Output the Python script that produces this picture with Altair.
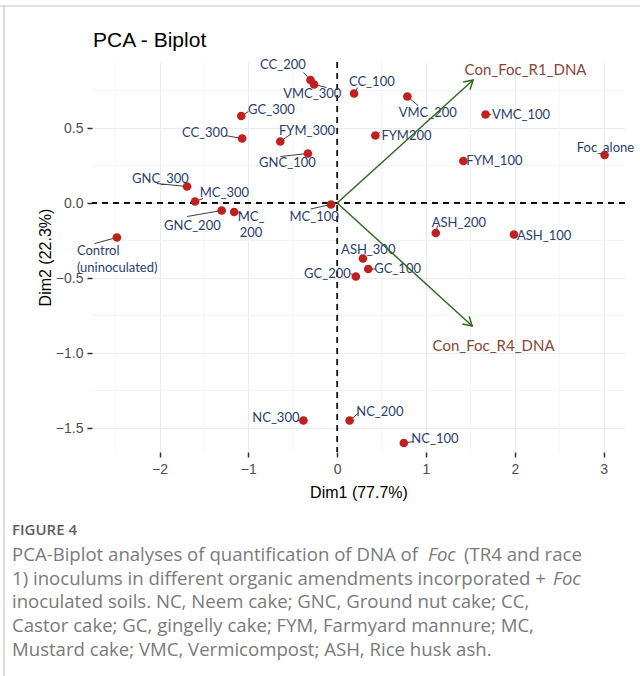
import math
import altair as alt
import pandas as pd

# ---- PCA individuals (Dim1, Dim2) ----
names = ["CC_200", "VMC_300", "CC_100", "VMC_200", "VMC_100", "FYM200", "FYM_100",
         "Foc_alone", "GC_300", "CC_300", "FYM_300", "GNC_100", "GNC_300", "MC_300",
         "GNC_200", "MC_\n200", "MC_100", "Control\n(uninoculated)", "ASH_200",
         "ASH_100", "ASH_300", "GC_100", "GC_200", "NC_300", "NC_200", "NC_100"]
dim1 = [-0.30, -0.26, 0.19, 0.79, 1.67, 0.43, 1.42, 3.01, -1.08, -1.07, -0.64, -0.33,
        -1.69, -1.60, -1.30, -1.16, -0.07, -2.48, 1.11, 1.99, 0.29, 0.35, 0.21,
        -0.38, 0.14, 0.75]
dim2 = [0.82, 0.79, 0.73, 0.71, 0.59, 0.45, 0.28, 0.32, 0.58, 0.43, 0.41, 0.33,
        0.11, 0.01, -0.05, -0.06, -0.01, -0.23, -0.20, -0.21, -0.37, -0.44, -0.49,
        -1.45, -1.45, -1.60]

# repelled label anchors (first text line) and leader-segment ends (data units)
lab_x = [-0.61, -0.28, 0.39, 1.02, 2.07, 0.78, 1.77, 3.02, -0.74, -1.49, -0.34, -0.56,
         -1.99, -1.27, -1.63, -0.97, -0.26, -2.93, 1.37, 2.33, 0.35, 0.68, -0.11,
         -0.69, 0.48, 1.10]
lab_y = [0.92, 0.73, 0.81, 0.60, 0.59, 0.45, 0.28, 0.37, 0.62, 0.47, 0.48, 0.27,
         0.16, 0.07, -0.15, -0.093, -0.09, -0.32, -0.13, -0.22, -0.31, -0.44, -0.47,
         -1.43, -1.39, -1.57]
lab_align = ["center"] * 17 + ["left"] + ["center"] * 8
seg_x = [-0.38, -0.12, 0.23, 0.91, 1.73, 0.48, 1.42, 3.01, -1.00, -1.26, -0.52, -0.64,
         -2.03, -1.51, -1.69, -1.07, -0.30, -2.73, 1.13, 1.99, 0.29, 0.43, 0.15,
         -0.44, 0.24, 0.86]
seg_y = [0.87, 0.77, 0.77, 0.65, 0.59, 0.47, 0.28, 0.32, 0.61, 0.45, 0.46, 0.31,
         0.13, 0.03, -0.09, -0.07, -0.04, -0.27, -0.15, -0.21, -0.37, -0.44, -0.47,
         -1.45, -1.40, -1.59]

# ---- variable loadings ----
var_names = ["Con_Foc_R1_DNA", "Con_Foc_R4_DNA"]
var_x = [1.53, 1.52]
var_y = [0.82, -0.82]
var_lab_x = [2.12, 1.76]
var_lab_y = [0.89, -0.95]

# ---- axes ----
x_ticks = [-2, -1, 0, 1, 2, 3]
y_ticks = [-1.5, -1.0, -0.5, 0.0, 0.5]
x_minor = [-2.5, -1.5, -0.5, 0.5, 1.5, 2.5]
y_minor = [0.75, 0.25, -0.25, -0.75, -1.25]
x_dom = [-2.76, 3.24]
y_dom = [-1.66, 0.94]

plot_title = "PCA - Biplot"
caption_head = "FIGURE 4"
caption_lines = [
    "PCA-Biplot analyses of quantification of DNA of",
    "1) inoculums in different organic amendments incorporated +",
    "inoculated soils. NC, Neem cake; GNC, Ground nut cake; CC,",
    "Castor cake; GC, gingelly cake; FYM, Farmyard mannure; MC,",
    "Mustard cake; VMC, Vermicompost; ASH, Rice husk ash.",
]
caption_italic = ["Foc", "Foc"]
caption_tail = "(TR4 and race"

W, H = 533, 390
PAD_L, PAD_T = 92, 62

X = alt.Scale(domain=x_dom, nice=False, zero=False)
Y = alt.Scale(domain=y_dom, nice=False, zero=False)
LBL = "Lato"
SANS = "Liberation Sans"
CAP = "Open Sans"
CAP_SIZE = 18.6
CAP_COLOR = "#7A7A7A"
CAP_Y0, CAP_DY = 555, 23.7

ind = pd.DataFrame({"name": names, "x": dim1, "y": dim2, "lx": lab_x, "ly": lab_y,
                    "sx": seg_x, "sy": seg_y, "align": lab_align})

kx = W / (x_dom[1] - x_dom[0])
ky = H / (y_dom[1] - y_dom[0])
var = pd.DataFrame({"name": var_names, "x": var_x, "y": var_y, "lx": var_lab_x,
                    "ly": var_lab_y,
                    "ang": [math.degrees(math.atan2(a * kx, b * ky)) for a, b in zip(var_x, var_y)]})
var["x0"] = 0.0
var["y0"] = 0.0

xaxis = alt.Axis(values=x_ticks, title="Dim1 (77.7%)", grid=True, gridColor="#EBEBEB",
                 domain=False, tickColor="#333333", tickWidth=1.5, tickSize=5,
                 labelFont=SANS, labelFontSize=14, labelColor="#4D4D4D", labelPadding=5,
                 titleFont=SANS, titleFontSize=16, titleFontWeight="normal",
                 titleColor="#000000", titlePadding=8, format="d")
yaxis = alt.Axis(values=y_ticks, title="Dim2 (22.3%)", grid=True, gridColor="#EBEBEB",
                 domain=False, tickColor="#333333", tickWidth=1.5, tickSize=5,
                 labelFont=SANS, labelFontSize=14, labelColor="#4D4D4D", labelPadding=4,
                 titleFont=SANS, titleFontSize=16, titleFontWeight="normal",
                 titleColor="#000000", titlePadding=2, format=".1f")

base = alt.Chart(ind)

axes_layer = base.mark_point(opacity=0).encode(
    x=alt.X("x:Q", scale=X, axis=xaxis),
    y=alt.Y("y:Q", scale=Y, axis=yaxis),
)

minor_x = alt.Chart(pd.DataFrame({"v": x_minor})).mark_rule(
    color="#F4F4F4", strokeWidth=1).encode(x=alt.X("v:Q", scale=X))
minor_y = alt.Chart(pd.DataFrame({"v": y_minor})).mark_rule(
    color="#F4F4F4", strokeWidth=1).encode(y=alt.Y("v:Q", scale=Y))

zero_h = alt.Chart(pd.DataFrame({"v": [0.0]})).mark_rule(
    color="#111111", strokeWidth=1.8, strokeDash=[6, 5]).encode(y=alt.Y("v:Q", scale=Y))
zero_v = alt.Chart(pd.DataFrame({"v": [0.0]})).mark_rule(
    color="#111111", strokeWidth=1.8, strokeDash=[6, 5]).encode(x=alt.X("v:Q", scale=X))

segs = base.mark_rule(color="#2a2a2a", strokeWidth=0.9).encode(
    x=alt.X("x:Q", scale=X), y=alt.Y("y:Q", scale=Y), x2="sx:Q", y2="sy:Q")

pts = base.mark_circle(size=75, color="#C0211F", opacity=1).encode(
    x=alt.X("x:Q", scale=X), y=alt.Y("y:Q", scale=Y))

labels_c = alt.Chart(ind[ind["align"] == "center"]).mark_text(
    font=LBL, fontSize=13, color="#2B3D6B", align="center", baseline="middle",
    lineBreak="\n", lineHeight=16.5).encode(
    x=alt.X("lx:Q", scale=X), y=alt.Y("ly:Q", scale=Y), text="name:N")
labels_l = alt.Chart(ind[ind["align"] == "left"]).mark_text(
    font=LBL, fontSize=13, color="#2B3D6B", align="left", baseline="middle",
    lineBreak="\n", lineHeight=16.5).encode(
    x=alt.X("lx:Q", scale=X), y=alt.Y("ly:Q", scale=Y), text="name:N")

vbase = alt.Chart(var)
shafts = vbase.mark_rule(color="#2E6B22", strokeWidth=1.5).encode(
    x=alt.X("x0:Q", scale=X), y=alt.Y("y0:Q", scale=Y), x2="x:Q", y2="y:Q")
heads = vbase.mark_point(shape="M -0.5 0.85 L 0 0 L 0.5 0.85", size=420, filled=False,
                         color="#2E6B22", strokeWidth=1.5, opacity=1).encode(
    x=alt.X("x:Q", scale=X), y=alt.Y("y:Q", scale=Y),
    angle=alt.Angle("ang:Q", scale=None))
vlabels = vbase.mark_text(font=LBL, fontSize=15, color="#8A4636", align="center",
                          baseline="middle").encode(
    x=alt.X("lx:Q", scale=X), y=alt.Y("ly:Q", scale=Y), text="name:N")

# plot title, placed above the panel's left edge
title = alt.Chart(pd.DataFrame({"t": [plot_title]})).mark_text(
    font=SANS, fontSize=21, color="#000000", align="left", baseline="middle").encode(
    x=alt.value(93 - PAD_L), y=alt.value(41 - PAD_T), text="t:N")

# figure frame lines (pixel offsets from the plot origin)
frame = alt.Chart(pd.DataFrame({"x": [-PAD_L, -88], "x2": [640 - PAD_L, -88],
                                "y": [-56, -56], "y2": [-56, 676 - PAD_T]})).mark_rule(
    color="#C6C6CC", strokeWidth=1.2).encode(
    x=alt.X("x:Q", scale=None), x2="x2:Q", y=alt.Y("y:Q", scale=None), y2="y2:Q")

# caption block
head = alt.Chart(pd.DataFrame({"t": [caption_head]})).mark_text(
    font=CAP, fontSize=15, fontWeight=600, color="#5E5E5E", align="left",
    baseline="middle").encode(x=alt.value(12 - PAD_L), y=alt.value(530 - PAD_T), text="t:N")

cap_df = pd.DataFrame({"t": caption_lines, "i": list(range(len(caption_lines)))})
cap = alt.Chart(cap_df).transform_calculate(
    py=f"{CAP_Y0 - PAD_T} + datum.i * {CAP_DY}").mark_text(
    font=CAP, fontSize=CAP_SIZE, color=CAP_COLOR, align="left",
    baseline="middle").encode(x=alt.value(12 - PAD_L), y=alt.Y("py:Q", scale=None),
                              text="t:N")
ital = alt.Chart(pd.DataFrame({"t": caption_italic, "px": [428 - PAD_L, 553 - PAD_L],
                               "py": [CAP_Y0 - PAD_T, CAP_Y0 + CAP_DY - PAD_T]})).mark_text(
    font=CAP, fontSize=CAP_SIZE, fontStyle="italic", color=CAP_COLOR,
    align="left", baseline="middle").encode(
    x=alt.X("px:Q", scale=None), y=alt.Y("py:Q", scale=None), text="t:N")
tail = alt.Chart(pd.DataFrame({"t": [caption_tail]})).mark_text(
    font=CAP, fontSize=CAP_SIZE, color=CAP_COLOR, align="left",
    baseline="middle").encode(x=alt.value(464 - PAD_L), y=alt.value(CAP_Y0 - PAD_T), text="t:N")

chart = alt.layer(
    axes_layer, minor_x, minor_y, zero_h, zero_v, segs, pts, labels_c, labels_l,
    shafts, heads, vlabels, title, frame, head, cap, ital, tail
).properties(
    width=W, height=H,
    autosize=alt.AutoSizeParams(type="none"),
    padding={"left": PAD_L, "top": PAD_T, "right": 640 - PAD_L - W, "bottom": 676 - PAD_T - H},
).configure_view(stroke=None)

chart.save("out.html", embed_options={"renderer": "svg", "actions": False})
